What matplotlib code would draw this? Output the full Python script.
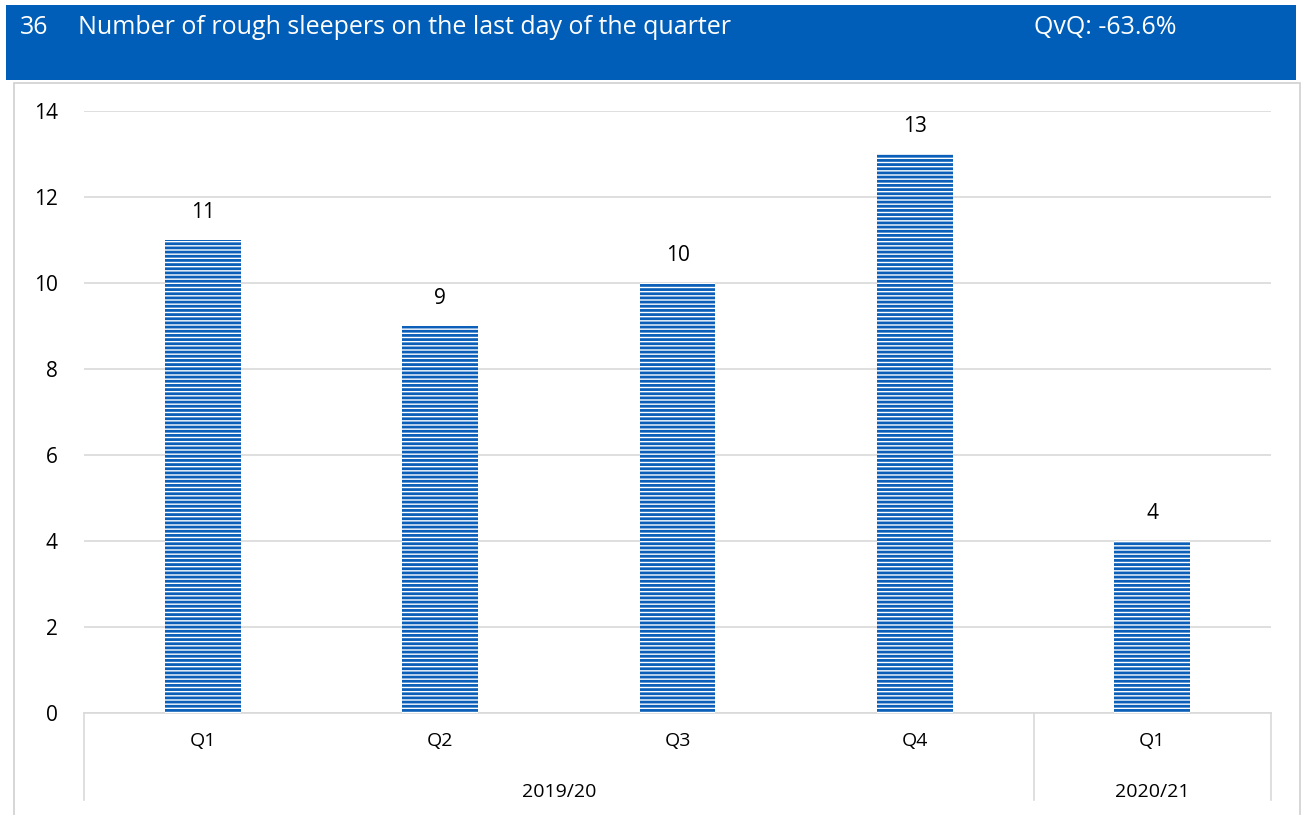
import matplotlib
matplotlib.use("Agg")
import matplotlib.pyplot as plt
from matplotlib.patches import Rectangle
from matplotlib.lines import Line2D

quarters = ["Q1", "Q2", "Q3", "Q4", "Q1"]
years = ["2019/20", "2020/21"]
year_groups = [4, 1]
values = [11, 9, 10, 13, 4]
title = "Number of rough sleepers on the last day of the quarter"
number = "36"
qvq = "QvQ: -63.6%"

plt.rcParams['font.family'] = ['Open Sans', 'DejaVu Sans']
plt.rcParams['hatch.linewidth'] = 2.0

BLUE = '#0B5FB8'
W, H = 1304, 815
fig = plt.figure(figsize=(W/100, H/100), dpi=100)

def fx(x): return x / W
def fy(y): return 1 - y / H

# header
fig.patches.append(Rectangle((fx(6), fy(80)), fx(1296) - fx(6), fy(5) - fy(80),
                             transform=fig.transFigure, facecolor='#005EB8', edgecolor='none'))
fig.text(fx(20), fy(28), number, color='white', fontsize=18, va='center', ha='left')
fig.text(fx(78), fy(28), title, color='white', fontsize=18, va='center', ha='left')
fig.text(fx(1034), fy(28), qvq, color='white', fontsize=18, va='center', ha='left')
# chart border
fig.patches.append(Rectangle((fx(14), fy(830)), fx(1300) - fx(14), fy(83) - fy(830),
                             transform=fig.transFigure, facecolor='none', edgecolor='#D0D0D0', lw=1.2))

ax = fig.add_axes([fx(84), fy(713), fx(1271) - fx(84), fy(111) - fy(713)])
x = list(range(len(values)))
ax.bar(x, values, width=0.32, facecolor='white', edgecolor=BLUE, linewidth=0,
       hatch='----', zorder=3)
for xi, v in zip(x, values):
    ax.annotate(str(v), (xi, v), xytext=(0, 12), textcoords='offset points',
                ha='center', va='bottom', fontsize=15, color='black')
ax.set_xlim(-0.5, len(values) - 0.5)
ax.set_ylim(0, 14)
ax.set_yticks(range(0, 15, 2))
ax.yaxis.grid(True, color='#D9D9D9', lw=1.2, zorder=0)
ax.set_axisbelow(True)
for s in ['top', 'right', 'left']:
    ax.spines[s].set_visible(False)
ax.spines['bottom'].set_color('#D9D9D9')
ax.spines['bottom'].set_linewidth(1.2)
ax.tick_params(axis='y', length=0, labelsize=15, pad=19)
ax.set_xticks(x)
ax.set_xticklabels(quarters)
ax.tick_params(axis='x', length=0, labelsize=14, pad=14)

# multi-level axis separators and year labels
trans = ax.get_xaxis_transform()
bottom_y = -(800 - 713) / (713 - 111)
bounds = [-0.5]
for g in year_groups:
    bounds.append(bounds[-1] + g)
for b in bounds:
    ax.add_line(Line2D([b, b], [0, bottom_y], transform=trans, color='#D9D9D9',
                       lw=1.2, clip_on=False))
for i, yr in enumerate(years):
    c = (bounds[i] + bounds[i + 1]) / 2
    ax.text(c, -(792 - 713) / (713 - 111), yr, transform=trans, ha='center', va='center',
            fontsize=14)

fig.savefig("out.png", dpi=100)
